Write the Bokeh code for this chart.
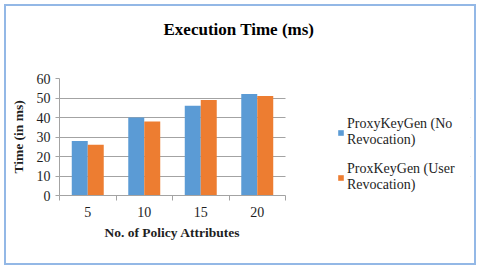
from bokeh.plotting import figure
from bokeh.models import (FixedTicker, Legend, LegendItem, Title,
                          ColumnDataSource, BoxAnnotation)
from bokeh.embed import file_html
from bokeh.resources import INLINE

# ---- data ----
categories = ["5", "10", "15", "20"]
no_revocation = [28, 40, 46, 52]
user_revocation = [26, 38, 49, 51]
y_ticks = [0, 10, 20, 30, 40, 50, 60]
series_names = ["ProxyKeyGen (No\nRevocation)", "ProxKeyGen (User\nRevocation)"]
x_title = "No. of Policy Attributes"
y_title = "Time (in ms)"
chart_title = "Execution Time  (ms)"

positions = [i + 1 for i in range(len(categories))]
bar_w = 0.283
x_lo = 0.5
x_hi = len(categories) + 0.5
# frame extends to the right to host the legend: 411 px frame, 56.5 px per category
x_view_end = x_lo + 411 / 56.5

src = ColumnDataSource(dict(
    x1=[p - bar_w / 2 for p in positions],
    x2=[p + bar_w / 2 for p in positions],
    a=no_revocation,
    b=user_revocation,
))

SERIF = "Liberation Serif"
TXT = "#1e1e1e"
GRID = "#a3a3a3"

p = figure(width=468, height=257, output_backend="svg", toolbar_location=None,
           x_range=(x_lo, x_view_end), y_range=(0, 60),
           min_border_left=53, min_border_right=4, min_border_top=72,
           min_border_bottom=68)
p.styles = {"outline": "2px solid #93b8e6", "margin": "6px"}
p.outline_line_color = None
p.background_fill_color = "white"
p.border_fill_color = "white"

# spacer between frame and title
p.add_layout(Title(text=" ", text_font_size="1px", standoff=32), "above")
p.title.text = chart_title
p.title.text_font = SERIF
p.title.text_font_size = "17px"
p.title.text_font_style = "bold"
p.title.text_color = "#000000"
p.title.align = "left"
p.title.offset = 104
p.title.standoff = 10

# mask grid lines in the legend area
p.add_layout(BoxAnnotation(left=x_hi, fill_color="white", fill_alpha=1,
                           line_color=None, level="underlay"))

r1 = p.vbar(x="x1", top="a", width=bar_w, source=src, fill_color="#5b9bd5",
            line_color=None)
r2 = p.vbar(x="x2", top="b", width=bar_w, source=src, fill_color="#ed7d31",
            line_color=None)

# x axis
xa = p.xaxis[0]
xa.bounds = (x_lo, x_hi)
xa.ticker = FixedTicker(ticks=positions,
                        minor_ticks=[pp - 0.5 for pp in positions] + [positions[-1] + 0.5])
xa.major_label_overrides = {pp: c for pp, c in zip(positions, categories)}
xa.major_tick_line_color = None
xa.major_tick_out = 0
xa.major_tick_in = 0
xa.minor_tick_out = 5
xa.minor_tick_in = 0
xa.minor_tick_line_color = GRID
xa.axis_line_color = GRID
xa.major_label_standoff = 6
xa.major_label_text_font = SERIF
xa.major_label_text_font_size = "14px"
xa.major_label_text_color = TXT

# x axis title, placed under the bounded axis
p.add_layout(Title(text=x_title, text_font=SERIF, text_font_size="13.5px",
                   text_font_style="bold", text_color=TXT, align="left",
                   offset=45, standoff=6), "below")

# y axis
ya = p.yaxis[0]
ya.ticker = FixedTicker(ticks=y_ticks)
ya.minor_tick_line_color = None
ya.major_tick_out = 4
ya.major_tick_in = 0
ya.major_tick_line_color = GRID
ya.axis_line_color = GRID
ya.major_label_standoff = 5
ya.major_label_text_font = SERIF
ya.major_label_text_font_size = "14px"
ya.major_label_text_color = TXT
ya.axis_label = y_title
ya.axis_label_text_font = SERIF
ya.axis_label_text_font_size = "13.5px"
ya.axis_label_text_font_style = "bold"
ya.axis_label_text_color = TXT
ya.axis_label_standoff = 8

p.xgrid.grid_line_color = None
p.ygrid.grid_line_color = GRID
p.ygrid.ticker = FixedTicker(ticks=y_ticks)

legend = Legend(items=[LegendItem(label=series_names[0], renderers=[r1]),
                       LegendItem(label=series_names[1], renderers=[r2])],
                location=(278, 2), padding=0, margin=0, spacing=13,
                glyph_width=7, glyph_height=7, label_standoff=3,
                label_text_font=SERIF, label_text_font_size="14px",
                label_text_line_height=1.3,
                label_text_color=TXT, border_line_color=None,
                background_fill_alpha=0)
p.add_layout(legend, "center")

open("out.html", "w").write(file_html(p, INLINE))
